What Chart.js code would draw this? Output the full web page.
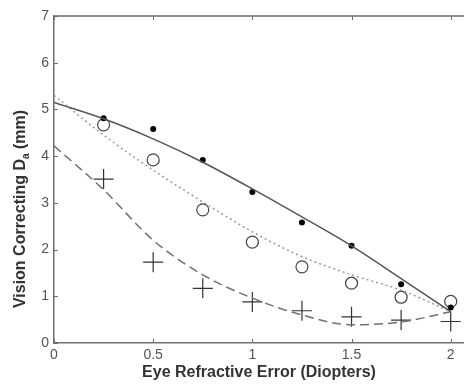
<!DOCTYPE html>
<html>
<head>
<meta charset="utf-8">
<script src="https://cdn.jsdelivr.net/npm/chart.js@4.4.0/dist/chart.umd.min.js"></script>
<style>
    html, body { margin: 0; padding: 0; background: #fff; overflow: hidden; }
</style>
</head>
<body>
<canvas id="lensChart" width="464" height="385"></canvas>
<script>
// measured points (x = refractive error in diopters)
var refractive_error = [0.25, 0.5, 0.75, 1, 1.25, 1.5, 1.75, 2];
var filled_dots = [4.81, 4.58, 3.92, 3.23, 2.58, 2.08, 1.26, 0.76];
var open_circles = [4.67, 3.92, 2.85, 2.16, 1.63, 1.28, 0.98, 0.89];
var plus_marks = [3.51, 1.73, 1.17, 0.88, 0.69, 0.56, 0.49, 0.46];

// fitted curves
var curve_x = [0, 0.25, 0.5, 0.75, 1, 1.25, 1.5, 1.75, 2];
var curve_solid = [5.15, 4.8, 4.37, 3.87, 3.3, 2.7, 2.08, 1.38, 0.67];
var curve_dotted = [5.3, 4.45, 3.7, 3.02, 2.38, 1.85, 1.46, 1.13, 0.67];
var curve_dashed = [4.22, 3.28, 2.2, 1.46, 0.96, 0.6, 0.39, 0.45, 0.67];

var x_ticks = [0, 0.5, 1, 1.5, 2];
var y_ticks = [0, 1, 2, 3, 4, 5, 6, 7];

function pts(xs, ys) {
    return xs.map((x, i) => ({ x: x, y: ys[i] }));
}

var axisColor = '#6e6e6e';
var fontFamily = '"Liberation Sans", Arial, sans-serif';

// inward tick marks, top frame line and the y title with its subscript
var matlabAxes = {
    id: 'matlabAxes',
    afterDraw(chart) {
        var ctx = chart.ctx;
        var area = chart.chartArea;
        var xs = chart.scales.x, ys = chart.scales.y;
        ctx.save();
        ctx.strokeStyle = axisColor;
        ctx.lineWidth = 1.5;
        ctx.beginPath();
        ctx.moveTo(area.left, area.top);
        ctx.lineTo(area.right, area.top);
        ctx.stroke();
        ctx.lineWidth = 1;
        ctx.beginPath();
        x_ticks.forEach(v => {
            var px = Math.round(xs.getPixelForValue(v)) + 0.5;
            ctx.moveTo(px, area.bottom);
            ctx.lineTo(px, area.bottom - 4);
            ctx.moveTo(px, area.top);
            ctx.lineTo(px, area.top + 4);
        });
        y_ticks.forEach(v => {
            var py = Math.round(ys.getPixelForValue(v)) + 0.5;
            ctx.moveTo(area.left, py);
            ctx.lineTo(area.left + 4, py);
        });
        ctx.stroke();

        // y title
        var main = 'bold 16px ' + fontFamily;
        var sub = 'bold 10px ' + fontFamily;
        var parts = [['Vision Correcting D', main, 0], ['a', sub, 5], [' (mm)', main, 0]];
        var total = 0;
        parts.forEach(p => { ctx.font = p[1]; total += ctx.measureText(p[0]).width; });
        ctx.translate(21, 209);
        ctx.rotate(-Math.PI / 2);
        ctx.fillStyle = '#333';
        ctx.textBaseline = 'middle';
        var cx = -total / 2;
        parts.forEach(p => {
            ctx.font = p[1];
            ctx.fillText(p[0], cx, p[2]);
            cx += ctx.measureText(p[0]).width;
        });
        ctx.restore();
    }
};

var ctx = document.getElementById('lensChart').getContext('2d');

new Chart(ctx, {
    type: 'scatter',
    data: {
        datasets: [{
            data: pts(curve_x, curve_solid),
            showLine: true,
            borderColor: '#555',
            borderWidth: 1.5,
            pointRadius: 0,
            cubicInterpolationMode: 'monotone'
        }, {
            data: pts(curve_x, curve_dotted),
            showLine: true,
            borderColor: '#9a9a9a',
            borderWidth: 1.5,
            borderDash: [2, 3],
            pointRadius: 0,
            cubicInterpolationMode: 'monotone'
        }, {
            data: pts(curve_x, curve_dashed),
            showLine: true,
            borderColor: '#707070',
            borderWidth: 1.5,
            borderDash: [9, 5],
            pointRadius: 0,
            cubicInterpolationMode: 'monotone'
        }, {
            data: pts(refractive_error, filled_dots),
            pointStyle: 'circle',
            pointRadius: 3,
            backgroundColor: '#000',
            borderColor: '#000',
            borderWidth: 0
        }, {
            data: pts(refractive_error, open_circles),
            pointStyle: 'circle',
            pointRadius: 6,
            backgroundColor: 'rgba(0,0,0,0)',
            borderColor: '#444',
            borderWidth: 1.2
        }, {
            data: pts(refractive_error, plus_marks),
            pointStyle: 'cross',
            pointRadius: 10,
            borderColor: '#333',
            borderWidth: 1.2
        }]
    },
    options: {
        responsive: false,
        animation: false,
        events: [],
        layout: {
            autoPadding: false,
            padding: { top: 16, right: 0, left: 0, bottom: 0 }
        },
        plugins: {
            legend: { display: false },
            tooltip: { enabled: false }
        },
        scales: {
            x: {
                type: 'linear',
                min: 0,
                max: 2.067,
                afterBuildTicks: scale => {
                    scale.ticks = x_ticks.map(v => ({ value: v }));
                },
                afterFit: scale => {
                    scale.height = 42;
                    scale.paddingLeft = 0;
                    scale.paddingRight = 0;
                },
                grid: { display: false, drawTicks: false },
                border: { color: axisColor, width: 1.5 },
                ticks: {
                    padding: 4,
                    color: '#555',
                    font: { family: fontFamily, size: 14 },
                    callback: v => String(v)
                },
                title: {
                    display: true,
                    text: 'Eye Refractive Error (Diopters)',
                    color: '#333',
                    font: { family: fontFamily, size: 16, weight: 'bold' },
                    padding: { top: 0, bottom: 3 }
                }
            },
            y: {
                type: 'linear',
                min: 0,
                max: 7,
                afterBuildTicks: scale => {
                    scale.ticks = y_ticks.map(v => ({ value: v }));
                },
                afterFit: scale => {
                    scale.width = 54;
                    scale.paddingTop = 0;
                    scale.paddingBottom = 0;
                },
                grid: { display: false, drawTicks: false },
                border: { color: axisColor, width: 1.5 },
                ticks: {
                    padding: 5,
                    color: '#555',
                    font: { family: fontFamily, size: 14 }
                }
            }
        }
    },
    plugins: [matlabAxes]
});
</script>
</body>
</html>
